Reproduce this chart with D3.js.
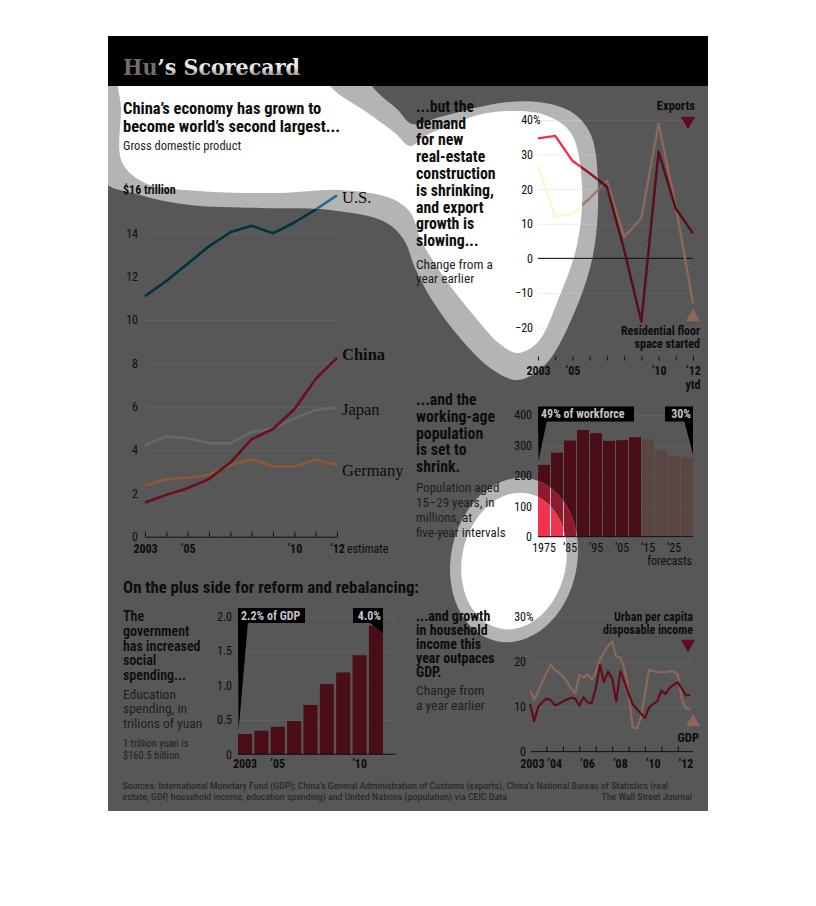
<!DOCTYPE html>
<html>
<head>
<meta charset="utf-8">
<script src="https://cdn.jsdelivr.net/npm/d3@7"></script>
<style>
body { margin: 0; background: #fff; }
svg { display: block; }
</style>
</head>
<body>
<svg width="816" height="906"></svg>
<script>
// ---- data ----
var years = [2003, 2004, 2005, 2006, 2007, 2008, 2009, 2010, 2011, 2012];
var gdpUS = [11.1, 11.8, 12.6, 13.4, 14.05, 14.35, 14.0, 14.5, 15.1, 15.75];
var gdpChina = [1.58, 1.93, 2.24, 2.66, 3.42, 4.5, 4.97, 5.88, 7.28, 8.25];
var gdpJapan = [4.23, 4.62, 4.54, 4.31, 4.31, 4.82, 5.0, 5.46, 5.85, 5.96];
var gdpGermany = [2.36, 2.65, 2.72, 2.86, 3.31, 3.58, 3.24, 3.24, 3.55, 3.32];
var gdpTickLabels = { 2003: "2003", 2005: "’05", 2010: "’10", 2012: "’12" };

var exportsGrowth = [34.7, 35.4, 28.2, 24.6, 20.7, 2.5, -18.3, 30.8, 14.4, 7.2];
var floorSpaceGrowth = [26.5, 12.0, 13.0, 17.3, 22.5, 6.2, 11.6, 39.0, 15.0, -13.0];
var tradeTickLabels = { 2003: "2003", 2005: "’05", 2010: "’10", 2012: "’12" };

var popYears = [1975, 1980, 1985, 1990, 1995, 2000, 2005, 2010, 2015, 2020, 2025, 2030];
var popValues = [236, 276, 316, 351, 340, 315, 317, 327, 320, 283, 264, 260];
var popTickLabels = { 1975: "1975", 1985: "’85", 1995: "’95", 2005: "’05", 2015: "’15", 2025: "’25" };
var forecastFrom = 2015;

var eduYears = [2003, 2004, 2005, 2006, 2007, 2008, 2009, 2010, 2011];
var eduValues = [0.295, 0.343, 0.40, 0.484, 0.717, 1.02, 1.19, 1.44, 1.87];
var eduTickLabels = { 2003: "2003", 2005: "’05", 2010: "’10" };

var quarters = d3.range(40).map(function(i) { return 2003 + i / 4; });
var incomeGrowth = [10.6, 6.8, 10.0, 11.0, 11.8, 11.5, 10.3, 10.6, 11.2, 11.6, 12.0, 11.8,
  10.2, 12.1, 11.0, 10.8, 14.0, 19.3, 15.5, 17.8, 16.3, 11.2, 17.9, 15.6,
  13.0, 10.5, 9.5, 8.5, 7.5, 9.8, 10.6, 11.2, 13.6, 12.8, 14.2, 14.9,
  15.4, 14.0, 12.5, 12.6];
var gdpGrowth = [13.7, 11.5, 13.5, 15.5, 17.5, 19.3, 18.2, 17.6, 16.8, 15.5, 14.0, 13.0,
  17.1, 16.5, 17.2, 16.0, 17.5, 20.4, 22.0, 23.5, 24.5, 21.1, 20.9, 18.5,
  13.5, 5.4, 5.2, 7.5, 13.0, 18.2, 17.9, 17.7, 17.6, 17.7, 17.9, 17.8,
  17.2, 11.5, 9.6, 9.4];
var incomeTickLabels = { 2004: "’04", 2006: "’06", 2008: "’08", 2010: "’10", 2012: "’12" };

// ---- looks ----
var SANS = "'Liberation Sans Narrow','Roboto Condensed','Arial Narrow',Roboto,sans-serif";
var SERIF = "'Liberation Serif','DejaVu Serif',serif";

var dim = { bg: "#575757", ink: "#0d0d0d", soft: "#1e1e1e", grid: "#616161",
  us: "#04313e", china: "#6b0f1f", japan: "#5f6a72", germany: "#8b5a3a",
  exp: "#5a0d1a", res: "#8c6858", bar: "#4b0d17", barF: "#5a4744",
  inc: "#620d1b", gdp: "#8c6858", boxText: "#c4c4c4" };
var halo = { bg: "#b4b4b4", ink: "#0a0a0a", soft: "#222", grid: "#c0c0c0",
  us: "#1b6f8b", china: "#9a1c30", japan: "#8a96a0", germany: "#b07a55",
  exp: "#8c1a2d", res: "#a07a68", bar: "#8e1b2d", barF: "#958080",
  inc: "#8c1a2d", gdp: "#a07a68", boxText: "#eee" };
var bright = { bg: "#ffffff", ink: "#000", soft: "#333", grid: "#ececec",
  us: "#2a9cc4", china: "#e8284a", japan: "#b8c4cc", germany: "#e0a070",
  exp: "#f0304f", res: "#fdf7cc", bar: "#f2334f", barF: "#e8c8c0",
  inc: "#f0304f", gdp: "#fdf7cc", boxText: "#fff" };

// spotlight shapes
var innerBlob = [[122, 60], [318, 60], [332, 88], [365, 111], [395, 133], [410, 146], [425, 136],
  [448, 126], [478, 115], [510, 111], [545, 115], [571, 133], [582, 185], [577, 245],
  [558, 300], [538, 342], [518, 353], [500, 344], [475, 317], [441, 273], [421, 240],
  [410, 212], [390, 198], [340, 190], [280, 193], [200, 191], [145, 183], [122, 162], [121, 110]];
var outerBlob = [[100, 60], [362, 60], [372, 86], [398, 110], [412, 124], [440, 117], [475, 108],
  [508, 102], [545, 103], [573, 113], [591, 135], [598, 185], [593, 255], [572, 318],
  [545, 365], [518, 380], [493, 370], [460, 338], [432, 300], [415, 268], [404, 240],
  [385, 222], [330, 210], [260, 208], [190, 205], [140, 195], [100, 178]];

var svg = d3.select("svg");
var defs = svg.append("defs");
var blobLine = d3.line().curve(d3.curveCatmullRomClosed.alpha(0.5));

var haloClip = defs.append("clipPath").attr("id", "haloClip");
haloClip.append("path").attr("d", blobLine(outerBlob));
haloClip.append("ellipse").attr("rx", 63).attr("ry", 83).attr("transform", "translate(514,560) rotate(12)");
var brightClip = defs.append("clipPath").attr("id", "brightClip");
brightClip.append("path").attr("d", blobLine(innerBlob));
brightClip.append("ellipse").attr("rx", 52).attr("ry", 69).attr("transform", "translate(514,561) rotate(12)");

var grad = defs.append("linearGradient").attr("id", "titleGrad").attr("x1", 0).attr("x2", 0).attr("y1", 0).attr("y2", 1);
grad.append("stop").attr("offset", "0%").attr("stop-color", "#f2f2f2");
grad.append("stop").attr("offset", "55%").attr("stop-color", "#e6e6e6");
grad.append("stop").attr("offset", "75%").attr("stop-color", "#a8a8a8");
grad.append("stop").attr("offset", "100%").attr("stop-color", "#999");

function textBlock(tg, rows, x, y, lh, size, weight, fill, anchor) {
  tg.append("g").selectAll("text").data(rows).enter().append("text")
    .attr("x", x).attr("y", function(d, i) { return y + i * lh; })
    .attr("font-family", SANS).attr("font-size", size).attr("font-weight", weight)
    .attr("fill", fill).attr("text-anchor", anchor || "start")
    .text(function(d) { return d; });
}

// grid lines go in the shape layer, tick labels in the text layer
function yAxis(g, tg, scale, ticks, xAt, gridW, pad, fmt, p) {
  var axis = d3.axisLeft(scale).tickValues(ticks).tickSize(-gridW).tickPadding(pad).tickFormat(fmt);
  var grid = g.append("g").attr("transform", "translate(" + xAt + ",0)").call(axis);
  grid.select(".domain").remove();
  grid.selectAll("text").remove();
  grid.selectAll("line").attr("stroke", p.grid);
  var lab = tg.append("g").attr("transform", "translate(" + xAt + ",0)").call(axis);
  lab.select(".domain").remove();
  lab.selectAll("line").remove();
  lab.attr("font-family", SANS).attr("font-size", 12);
  lab.selectAll("text").attr("fill", p.ink);
}

function xAxis(g, tg, axis, yAt, p, keepDomain) {
  var ticks = g.append("g").attr("transform", "translate(0," + yAt + ")").call(axis);
  if (keepDomain) ticks.select(".domain").attr("stroke", p.ink);
  else ticks.select(".domain").remove();
  ticks.selectAll("text").remove();
  ticks.selectAll("line").attr("stroke", p.ink);
  var lab = tg.append("g").attr("transform", "translate(0," + yAt + ")").call(axis);
  lab.select(".domain").remove();
  lab.selectAll("line").remove();
  lab.attr("font-family", SANS).attr("font-size", 12).attr("font-weight", 700);
  lab.selectAll("text").attr("fill", p.ink);
  return ticks;
}

function marker(g, x, y, up, fill) {
  g.append("path").attr("d", d3.symbol(d3.symbolTriangle, 90)())
    .attr("transform", "translate(" + x + "," + y + ") rotate(" + (up ? 0 : 180) + ")")
    .attr("fill", fill);
}

// ---- GDP ----
function drawGdp(g, tg, p) {
  var x = d3.scaleLinear().domain([2003, 2012]).range([145, 337]);
  var y = d3.scaleLinear().domain([0, 16]).range([536.7, 190]);

  textBlock(tg, ["China’s economy has grown to", "become world’s second largest..."], 123, 114, 17.5, 16.5, 700, p.ink);
  textBlock(tg, ["Gross domestic product"], 123, 149.5, 0, 12.5, 400, p.soft);

  yAxis(g, tg, y, [0, 2, 4, 6, 8, 10, 12, 14], 145, 193, 7, d3.format("d"), p);
  tg.append("text").attr("x", 123).attr("y", y(16)).attr("dy", "0.35em")
    .attr("font-family", SANS).attr("font-size", 12).attr("font-weight", 700)
    .attr("fill", p.ink).text("$16 trillion");

  xAxis(g, tg, d3.axisBottom(x).tickValues(years).tickSizeInner(-5).tickSizeOuter(0).tickPadding(8)
    .tickFormat(function(d) { return gdpTickLabels[d] || ""; }), y(0), p, true);
  tg.append("text").attr("x", 347).attr("y", 552.5).attr("font-family", SANS)
    .attr("font-size", 12).attr("fill", p.ink).text("estimate");

  var line = d3.line().x(function(d, i) { return x(years[i]); }).y(function(d) { return y(d); });
  var series = [
    { v: gdpGermany, c: p.germany, name: "Germany", w: 400 },
    { v: gdpJapan, c: p.japan, name: "Japan", w: 400 },
    { v: gdpChina, c: p.china, name: "China", w: 700 },
    { v: gdpUS, c: p.us, name: "U.S.", w: 400 }
  ];
  g.append("g").selectAll("path").data(series).enter().append("path")
    .attr("d", function(d) { return line(d.v); })
    .attr("fill", "none").attr("stroke", function(d) { return d.c; })
    .attr("stroke-width", 2.6).attr("stroke-linejoin", "round");
  var offs = { "U.S.": 2, "China": -4, "Japan": 2, "Germany": 5 };
  tg.append("g").selectAll("text").data(series).enter().append("text")
    .attr("x", 342).attr("y", function(d) { return y(d.v[d.v.length - 1]) + offs[d.name]; })
    .attr("dy", "0.35em").attr("font-family", SERIF).attr("font-size", 16.5)
    .attr("font-weight", function(d) { return d.w; }).attr("fill", p.ink)
    .text(function(d) { return d.name; });
}

// ---- exports / real estate ----
function drawTrade(g, tg, p) {
  var x = d3.scaleLinear().domain([2003, 2012]).range([538, 693]);
  var y = d3.scaleLinear().domain([-20, 40]).range([327.5, 120]);

  textBlock(tg, ["...but the", "demand", "for new", "real-estate", "construction", "is shrinking,",
    "and export", "growth is", "slowing..."], 416, 111.7, 16.8, 15.8, 700, p.ink);
  textBlock(tg, ["Change from a", "year earlier"], 416, 268.5, 14.5, 13.3, 400, p.soft);

  yAxis(g, tg, y, [-20, -10, 0, 10, 20, 30, 40], 538, 155, 5, d3.format("d"), p);
  tg.append("text").attr("x", 533).attr("y", y(40)).attr("dy", "0.35em")
    .attr("font-family", SANS).attr("font-size", 12).attr("fill", p.ink).text("%");
  g.append("line").attr("x1", 538).attr("x2", 693).attr("y1", y(0)).attr("y2", y(0))
    .attr("stroke", p.ink).attr("stroke-width", 1);

  xAxis(g, tg, d3.axisBottom(x).tickValues(years).tickSizeInner(-4).tickSizeOuter(0).tickPadding(6)
    .tickFormat(function(d) { return tradeTickLabels[d] || ""; }), 360.5, p, false);
  tg.append("text").attr("x", x(2012)).attr("y", 388.5).attr("text-anchor", "middle")
    .attr("font-family", SANS).attr("font-size", 12).attr("font-weight", 700)
    .attr("fill", p.ink).text("ytd");

  var line = d3.line().x(function(d, i) { return x(years[i]); }).y(function(d) { return y(d); });
  g.append("path").attr("d", line(floorSpaceGrowth)).attr("fill", "none")
    .attr("stroke", p.res).attr("stroke-width", 2.4).attr("stroke-linejoin", "round");
  g.append("path").attr("d", line(exportsGrowth)).attr("fill", "none")
    .attr("stroke", p.exp).attr("stroke-width", 2.4).attr("stroke-linejoin", "round");

  textBlock(tg, ["Exports"], 695, 110, 0, 12.5, 700, p.ink, "end");
  marker(g, 688, 121, false, p.exp);
  textBlock(tg, ["Residential floor", "space started"], 700, 335, 12.6, 12, 700, p.ink, "end");
  marker(g, 693, 317, true, p.res);
}

// ---- working-age population ----
function drawPopulation(g, tg, p) {
  var x = d3.scaleBand().domain(popYears).range([538, 693]).paddingInner(0.08);
  var y = d3.scaleLinear().domain([0, 400]).range([536.7, 415]);

  textBlock(tg, ["...and the", "working-age", "population", "is set to", "shrink."], 416, 405, 16.8, 15.8, 700, p.ink);
  textBlock(tg, ["Population aged", "15–29 years, in", "millions, at", "five-year intervals"], 416, 491.7, 15, 13, 400, p.soft);

  yAxis(g, tg, y, [0, 100, 200, 300, 400], 538, 155, 6, d3.format("d"), p);

  g.append("g").selectAll("rect").data(popValues).enter().append("rect")
    .attr("x", function(d, i) { return x(popYears[i]); })
    .attr("y", function(d) { return y(d); })
    .attr("width", x.bandwidth())
    .attr("height", function(d) { return y(0) - y(d); })
    .attr("fill", function(d, i) { return popYears[i] >= forecastFrom ? p.barF : p.bar; });
  g.append("line").attr("x1", 538).attr("x2", 693).attr("y1", y(0)).attr("y2", y(0)).attr("stroke", p.ink);

  tg.append("g").selectAll("text").data(popYears.filter(function(d) { return popTickLabels[d]; }))
    .enter().append("text")
    .attr("x", function(d) { return x(d) + x.bandwidth() / 2; }).attr("y", 552)
    .attr("text-anchor", "middle").attr("font-family", SANS).attr("font-size", 12)
    .attr("fill", p.ink).text(function(d) { return popTickLabels[d]; });
  textBlock(tg, ["forecasts"], 692, 564.5, 0, 12, 400, p.ink, "end");

  // callouts
  var x0 = x(popYears[0]), xl = x(popYears[popYears.length - 1]) + x.bandwidth();
  g.append("path").attr("d", "M" + x0 + ",420 L" + (x0 + 9) + ",420 L" + (x0 + 0.5) + "," + (y(popValues[0]) - 4) + "Z").attr("fill", "#000");
  g.append("rect").attr("x", x0).attr("y", 406.5).attr("width", 96).attr("height", 15).attr("fill", "#000");
  tg.append("text").attr("x", x0 + 3).attr("y", 418).attr("font-family", SANS).attr("font-size", 12)
    .attr("font-weight", 700).attr("fill", p.boxText).text("49% of workforce");
  g.append("path").attr("d", "M" + (xl - 9) + ",420 L" + xl + ",420 L" + xl + "," + (y(popValues[popValues.length - 1]) - 3) + "Z").attr("fill", "#000");
  g.append("rect").attr("x", xl - 28).attr("y", 406.5).attr("width", 28).attr("height", 15).attr("fill", "#000");
  tg.append("text").attr("x", xl - 2).attr("y", 418).attr("text-anchor", "end").attr("font-family", SANS)
    .attr("font-size", 12).attr("font-weight", 700).attr("fill", p.boxText).text("30%");
}

// ---- education spending ----
function drawEducation(g, tg, p) {
  var x = d3.scaleBand().domain(eduYears).range([238, 383]).paddingInner(0.14);
  var y = d3.scaleLinear().domain([0, 2]).range([754.3, 616.7]);

  textBlock(tg, ["On the plus side for reform and rebalancing:"], 123, 593.3, 0, 16.8, 700, p.ink);
  textBlock(tg, ["The", "government", "has increased", "social", "spending..."], 123, 621, 14.8, 14, 600, p.ink);
  textBlock(tg, ["Education", "spending, in", "trilions of yuan"], 123, 698.5, 14.7, 13.5, 400, p.soft);
  textBlock(tg, ["1 trillion yuan is", "$160.5 billion"], 123, 746.7, 11.8, 10.5, 400, p.soft);

  yAxis(g, tg, y, [0, 0.5, 1, 1.5, 2], 238, 158, 6, function(d) { return d === 0 ? "0" : d3.format(".1f")(d); }, p);

  g.append("g").selectAll("rect").data(eduValues).enter().append("rect")
    .attr("x", function(d, i) { return x(eduYears[i]); })
    .attr("y", function(d) { return y(d); })
    .attr("width", x.bandwidth())
    .attr("height", function(d) { return y(0) - y(d); })
    .attr("fill", p.bar);
  g.append("line").attr("x1", 238).attr("x2", 396).attr("y1", y(0)).attr("y2", y(0)).attr("stroke", p.ink);

  tg.append("g").selectAll("text").data(eduYears.filter(function(d) { return eduTickLabels[d]; }))
    .enter().append("text")
    .attr("x", function(d) { return x(d) + x.bandwidth() / 2; }).attr("y", 768)
    .attr("text-anchor", "middle").attr("font-family", SANS).attr("font-size", 12)
    .attr("font-weight", 700).attr("fill", p.ink).text(function(d) { return eduTickLabels[d]; });

  var x0 = x(eduYears[0]), xl = x(eduYears[eduYears.length - 1]) + x.bandwidth();
  g.append("path").attr("d", "M" + x0 + ",622 L" + (x0 + 10) + ",622 L" + (x0 + 0.5) + "," + (y(eduValues[0]) - 3) + "Z").attr("fill", "#000");
  g.append("rect").attr("x", x0).attr("y", 608).attr("width", 67).attr("height", 15).attr("fill", "#000");
  tg.append("text").attr("x", x0 + 3).attr("y", 619.5).attr("font-family", SANS).attr("font-size", 12)
    .attr("font-weight", 700).attr("fill", p.boxText).text("2.2% of GDP");
  g.append("path").attr("d", "M" + (xl - 14) + ",622 L" + xl + ",622 L" + xl + ",633Z").attr("fill", "#000");
  g.append("rect").attr("x", xl - 30).attr("y", 608).attr("width", 30).attr("height", 15).attr("fill", "#000");
  tg.append("text").attr("x", xl - 2).attr("y", 619.5).attr("text-anchor", "end").attr("font-family", SANS)
    .attr("font-size", 12).attr("font-weight", 700).attr("fill", p.boxText).text("4.0%");
}

// ---- household income vs GDP ----
function drawIncome(g, tg, p) {
  var x = d3.scaleLinear().domain([2004.5, 2012.5]).range([554.7, 686]);
  var y = d3.scaleLinear().domain([0, 30]).range([751.7, 616.7]);

  textBlock(tg, ["...and growth", "in household", "income this", "year outpaces", "GDP."], 416, 620.7, 14, 14, 700, p.ink);
  textBlock(tg, ["Change from", "a year earlier"], 416, 695, 15, 13.5, 400, p.soft);

  yAxis(g, tg, y, [0, 10, 20, 30], 533, 160, 7, d3.format("d"), p);
  tg.append("text").attr("x", 526).attr("y", y(30)).attr("dy", "0.35em")
    .attr("font-family", SANS).attr("font-size", 12).attr("fill", p.ink).text("%");

  var ticks = xAxis(g, tg, d3.axisBottom(x).tickValues(d3.range(2004, 2013)).tickSizeInner(-5).tickSizeOuter(0)
    .tickFormat(""), y(0), p, true);
  ticks.select(".domain").attr("d", "M531,0H693");
  tg.append("g").selectAll("text").data(Object.keys(incomeTickLabels))
    .enter().append("text")
    .attr("x", function(d) { return x(+d + 0.5); }).attr("y", 768)
    .attr("text-anchor", "middle").attr("font-family", SANS).attr("font-size", 12)
    .attr("font-weight", 700).attr("fill", p.ink).text(function(d) { return incomeTickLabels[d]; });
  tg.append("text").attr("x", x(2004) - 2).attr("y", 768).attr("text-anchor", "end")
    .attr("font-family", SANS).attr("font-size", 12).attr("font-weight", 700)
    .attr("fill", p.ink).text("2003");

  var line = d3.line().x(function(d, i) { return x(quarters[i]); }).y(function(d) { return y(d); });
  g.append("path").attr("d", line(gdpGrowth)).attr("fill", "none")
    .attr("stroke", p.gdp).attr("stroke-width", 2.2).attr("stroke-linejoin", "round");
  g.append("path").attr("d", line(incomeGrowth)).attr("fill", "none")
    .attr("stroke", p.inc).attr("stroke-width", 2.2).attr("stroke-linejoin", "round");

  textBlock(tg, ["Urban per capita", "disposable income"], 693, 620.7, 12.8, 12, 700, p.ink, "end");
  marker(g, 688, 644, false, p.inc);
  marker(g, 693, 722, true, p.gdp);
  textBlock(tg, ["GDP"], 699, 741.7, 0, 12.5, 700, p.ink, "end");
}

function drawNotes(tg, p) {
  textBlock(tg, ["Sources: International Monetary Fund (GDP); China’s General Administration of Customs (exports), China’s National Bureau of Statistics (real",
    "estate, GDP, household income, education spending) and United Nations (population) via CEIC Data"], 122.5, 789, 11, 9.9, 400, p.soft);
  textBlock(tg, ["The Wall Street Journal"], 692, 800, 0, 9.9, 400, p.soft, "end");
}

// texts are drawn once, on top; the halo and bright copies only repaint shapes
function drawCard(g, tg, p) {
  g.append("rect").attr("x", 108).attr("y", 86).attr("width", 600).attr("height", 725).attr("fill", p.bg);
  drawGdp(g, tg, p);
  drawTrade(g, tg, p);
  drawPopulation(g, tg, p);
  drawEducation(g, tg, p);
  drawIncome(g, tg, p);
  drawNotes(tg, p);
}

var dimLayer = svg.append("g");
var haloLayer = svg.append("g").attr("clip-path", "url(#haloClip)");
var brightLayer = svg.append("g").attr("clip-path", "url(#brightClip)");
var textLayer = svg.append("g");

drawCard(dimLayer, textLayer, dim);
drawCard(haloLayer, d3.create("svg:g"), halo);
drawCard(brightLayer, d3.create("svg:g"), bright);

// header band
svg.append("rect").attr("x", 108).attr("y", 36).attr("width", 600).attr("height", 50).attr("fill", "#000");
var title = svg.append("text").attr("x", 123).attr("y", 75)
  .attr("font-family", "'DejaVu Serif',serif").attr("font-weight", 700).attr("font-size", 22)
  .attr("textLength", 177).attr("lengthAdjust", "spacingAndGlyphs");
title.append("tspan").attr("fill", "#6e6e6e").text("Hu");
title.append("tspan").attr("fill", "url(#titleGrad)").text("’s Scorecard");
</script>
</body>
</html>
